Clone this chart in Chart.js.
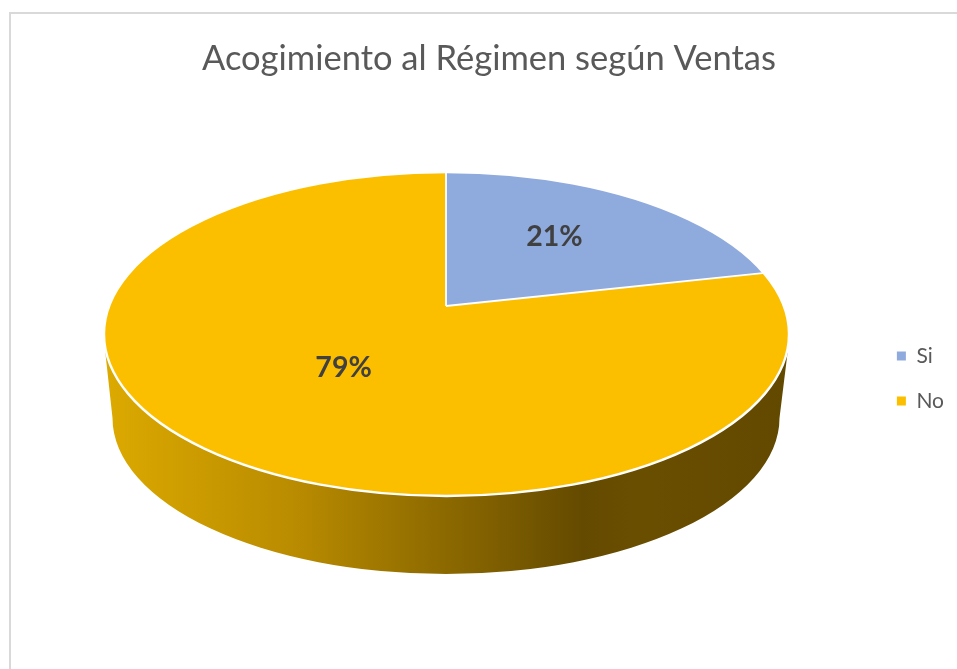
<!DOCTYPE html>
<html><head><meta charset="utf-8">
<style>html,body{margin:0;padding:0;background:#fff}canvas{display:block}</style>
<script src="https://cdn.jsdelivr.net/npm/chart.js@4/dist/chart.umd.min.js"></script>
</head><body><canvas id="c" width="957" height="669"></canvas>
<script>
const titleText = 'Acogimiento al Régimen según Ventas';
const categories = ['Si', 'No'];
const values = [21, 79];
const colors = ['#8faadc', '#fbbf00'];

// Perspective look of the pie
const TOP = {cx: 446.5, cy: 334, rx: 342.5, ry: 162};
const BOTTOM = {cx: 446, cy: 418, rx: 333.5, ry: 156};
const APEX = {x: 446, y: 306};
const TILT = 0.405;

function topEllipsePath(ctx){
  ctx.beginPath();
  ctx.ellipse(TOP.cx, TOP.cy, TOP.rx, TOP.ry, 0, 0, Math.PI*2);
}
const pie3d = {
  id: 'pie3d',
  beforeDraw(chart){
    const ctx = chart.ctx;
    ctx.save();
    ctx.strokeStyle = '#d9d9d9';
    ctx.lineWidth = 2;
    ctx.beginPath();
    ctx.moveTo(10, 669); ctx.lineTo(10, 13); ctx.lineTo(957, 13);
    ctx.stroke();
    ctx.restore();
  },
  beforeDatasetsDraw(chart){
    const ctx = chart.ctx;
    const arc = chart.getDatasetMeta(0).data[0];
    // side wall
    const g = ctx.createLinearGradient(104, 0, 789, 0);
    [[0,'#dcaa00'],[0.28,'#b98b00'],[0.5,'#8c6900'],[0.7,'#644a00'],[0.78,'#6a4e00'],[1,'#624900']]
      .forEach(s => g.addColorStop(s[0], s[1]));
    ctx.save();
    ctx.fillStyle = g;
    ctx.beginPath();
    ctx.moveTo(TOP.cx - TOP.rx + 0.5, 345);
    ctx.lineTo(BOTTOM.cx - BOTTOM.rx, BOTTOM.cy);
    ctx.ellipse(BOTTOM.cx, BOTTOM.cy, BOTTOM.rx, BOTTOM.ry, 0, Math.PI, 0, true);
    ctx.lineTo(TOP.cx + TOP.rx - 0.5, 345);
    ctx.closePath();
    ctx.fill();
    ctx.restore();
    // slices: library arcs seen through the tilted top face
    ctx.save();
    topEllipsePath(ctx);
    ctx.clip();
    const k = 520 / arc.outerRadius;
    ctx.translate(APEX.x, APEX.y);
    ctx.scale(k, k * TILT);
    ctx.translate(-arc.x, -arc.y);
  },
  afterDatasetsDraw(chart){
    const ctx = chart.ctx;
    const arcs = chart.getDatasetMeta(0).data;
    ctx.restore();
    // slice edges
    ctx.save();
    topEllipsePath(ctx);
    ctx.clip();
    ctx.strokeStyle = '#fff';
    ctx.lineWidth = 1.8;
    arcs.forEach(a => {
      ctx.beginPath();
      ctx.moveTo(APEX.x, APEX.y);
      ctx.lineTo(APEX.x + 900*Math.cos(a.startAngle), APEX.y + 900*TILT*Math.sin(a.startAngle));
      ctx.stroke();
    });
    ctx.restore();
    ctx.save();
    ctx.strokeStyle = '#fff';
    ctx.lineWidth = 2.4;
    topEllipsePath(ctx);
    ctx.stroke();
    // data labels
    const total = values.reduce((p, v) => p + v, 0);
    ctx.fillStyle = '#404040';
    ctx.font = 'bold 28.5px Lato';
    ctx.textAlign = 'center';
    ctx.textBaseline = 'middle';
    arcs.forEach((a, i) => {
      const m = (a.startAngle + a.endAngle) / 2;
      ctx.fillText(Math.round(values[i]/total*100) + '%',
        APEX.x + 3 + 172*Math.cos(m), APEX.y - 3.5 + 83*Math.sin(m));
    });
    ctx.restore();
  }
};

new Chart(document.getElementById('c'), {
  type: 'pie',
  data: {
    labels: categories,
    datasets: [{data: values, backgroundColor: colors, borderWidth: 0, clip: false}]
  },
  plugins: [pie3d],
  options: {
    responsive: false,
    animation: false,
    layout: {padding: {left: 24, right: 3, top: 34, bottom: -54}},
    plugins: {
      tooltip: {enabled: false},
      title: {
        display: true, text: titleText, color: '#595959',
        font: {family: 'Lato', size: 34.5, weight: 'normal'},
        padding: {top: 4, bottom: 10}
      },
      legend: {
        position: 'right',
        labels: {
          color: '#595959',
          font: {family: 'Lato', size: 21},
          boxWidth: 9, boxHeight: 9, padding: 24
        }
      }
    }
  }
});
</script></body></html>
